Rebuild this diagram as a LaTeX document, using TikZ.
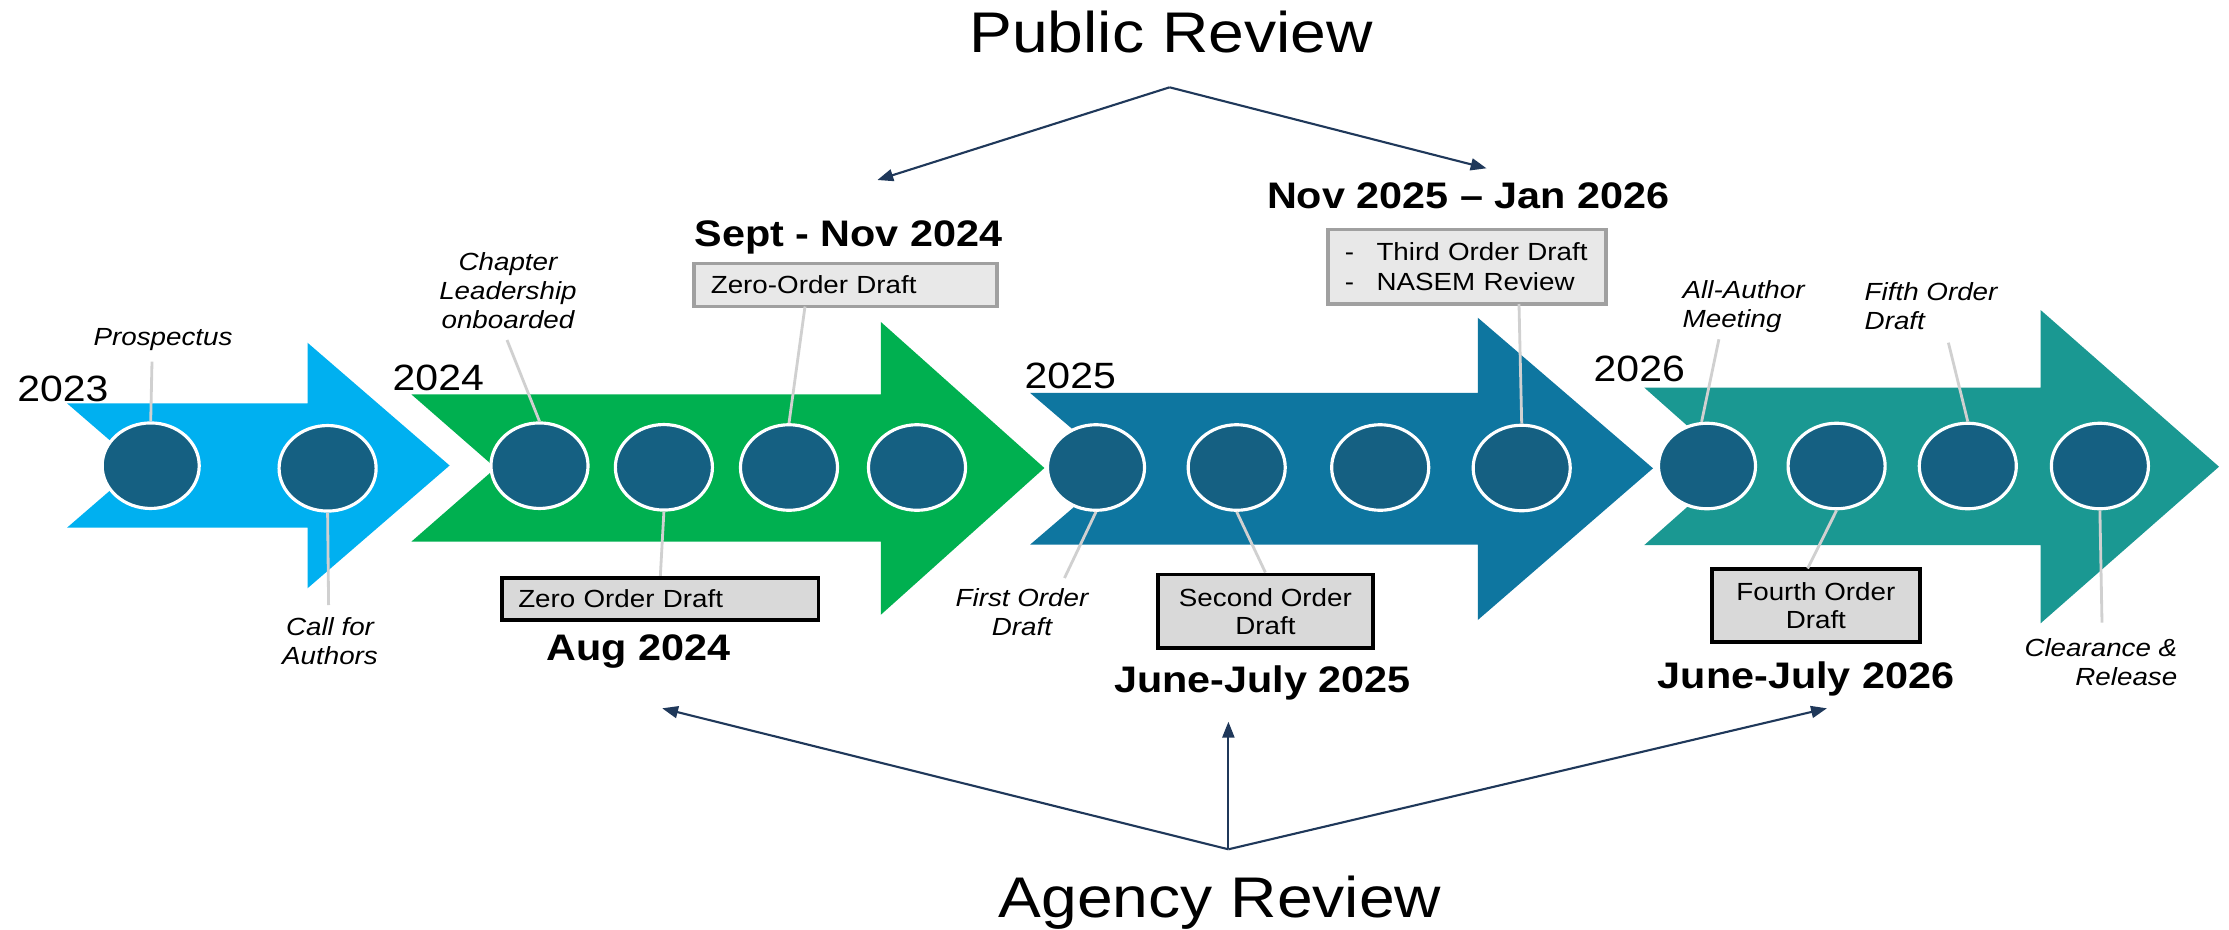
\documentclass[tikz,border=0pt]{standalone}
\usepackage{fontspec}
\setmainfont{Liberation Sans}[FakeStretch=1.12]
\usetikzlibrary{shapes.geometric,arrows.meta}

\definecolor{skyarrow}{RGB}{0,176,240}
\definecolor{greenarrow}{RGB}{0,176,80}
\definecolor{bluearrow}{RGB}{14,118,160}
\definecolor{tealarrow}{RGB}{26,152,146}
\definecolor{dotblue}{RGB}{21,96,130}
\definecolor{navy}{RGB}{31,56,90}
\definecolor{leadgray}{RGB}{208,208,208}
\definecolor{boxfill}{RGB}{217,217,217}
\definecolor{palefill}{RGB}{232,232,232}
\definecolor{paleedge}{RGB}{160,160,160}

\tikzset{
	milestone/.style={ellipse, draw=white, line width=0.9pt, fill=dotblue, minimum width=0.97cm, minimum height=0.855cm, inner sep=0pt},
	leader/.style={draw=leadgray, line width=0.8pt},
	review/.style={draw=navy, line width=0.6pt, -{Triangle[length=4.5pt,width=3.4pt]}},
	note/.style={font=\itshape\fontsize{7.05}{8.35}\selectfont, align=center, inner sep=0pt},
	year/.style={font=\fontsize{10.4}{12}\selectfont, inner sep=0pt, anchor=base west},
	when/.style={font=\bfseries\fontsize{10.5}{12.6}\selectfont, inner sep=0pt, anchor=base},
	title/.style={font=\fontsize{16.3}{19}\selectfont, inner sep=0pt, anchor=base},
	darkbox/.style={draw=black, line width=1.1pt, fill=boxfill, font=\fontsize{7.05}{8.05}\selectfont, align=center, inner sep=0pt},
	lightbox/.style={draw=paleedge, line width=1pt, fill=palefill, font=\fontsize{7.05}{8.35}\selectfont, align=left, inner ysep=0pt, inner xsep=0.17cm}
}

\begin{document}
\begin{tikzpicture}[x=0.01cm,y=-0.01cm]
	\useasboundingbox (0,0) rectangle (2229,930);
	\fill[white] (0,0) rectangle (2229,930); %background
	\fill[skyarrow] (67,403.3)--(307.5,403.3)--(307.5,342.7)--(449.6,465.5)--(307.5,588.3)--(307.5,527.7)--(67,527.7)--(139,465.5)--cycle; %2023 arrow
	\fill[greenarrow] (411.3,394.3)--(880.8,394.3)--(880.8,321.9)--(1044.4,468)--(880.8,614.8)--(880.8,541.7)--(411.3,541.7)--(495.7,468)--cycle; %2024 arrow
	\fill[bluearrow] (1030,392.8)--(1477.8,392.8)--(1477.8,317.7)--(1653,468.3)--(1477.8,620)--(1477.8,544.7)--(1030,544.7)--(1118.7,468.7)--cycle; %2025 arrow
	\fill[tealarrow] (1644.4,387.7)--(2040.6,387.7)--(2040.6,310)--(2219,466.7)--(2040.6,623.3)--(2040.6,545)--(1644.4,545)--(1733,466.3)--cycle; %2026 arrow

	\node[milestone] (c1) at (150.7,465.7) {}; %prospectus
	\node[milestone] (c2) at (327.6,468.3) {}; %call for authors
	\node[milestone] (c3) at (539.5,465.7) {}; %chapter leadership
	\node[milestone] (c4) at (663.9,467.3) {}; %zero order draft
	\node[milestone] (c5) at (789,467.5) {}; %zero-order draft review
	\node[milestone] (c6) at (917,467.5) {};
	\node[milestone] (c7) at (1096,467.5) {}; %first order draft
	\node[milestone] (c8) at (1236.7,467.5) {}; %second order draft
	\node[milestone] (c9) at (1380.2,467.5) {};
	\node[milestone] (c10) at (1521.7,468) {}; %third order draft
	\node[milestone] (c11) at (1707,466) {}; %all-author meeting
	\node[milestone] (c12) at (1836.6,466) {}; %fourth order draft
	\node[milestone] (c13) at (1967.8,466) {}; %fifth order draft
	\node[milestone] (c14) at (2099.9,466) {}; %clearance

	\node[darkbox, align=left, text width=2.84cm, inner xsep=0.16cm, minimum height=0.42cm] (zob) at (660.35,598.85) {Zero Order Draft}; %agency box 2024
	\node[lightbox, text width=2.69cm, minimum height=0.433cm] (zog) at (845.4,285) {Zero-Order Draft}; %public box 2024
	\node[lightbox, text width=2.44cm, minimum height=0.745cm] (tob) at (1466.85,266.7) {-\hspace{0.225cm}Third Order Draft\\-\hspace{0.225cm}NASEM Review}; %public box 2025
	\node[darkbox, minimum width=2.147cm, minimum height=0.738cm] (sob) at (1265.4,611.35) {Second Order\\Draft}; %agency box 2025
	\node[darkbox, minimum width=2.078cm, minimum height=0.725cm] (fob) at (1815.85,605.3) {Fourth Order\\Draft}; %agency box 2026

	\coordinate (p1) at (152,361.7);
	\coordinate (p2) at (328.6,605);
	\coordinate (p3) at (507,340);
	\coordinate (p5) at (805,306.5);
	\coordinate (p7) at (1064.5,578);
	\coordinate (p10) at (1519,304);
	\coordinate (p11) at (1718.9,339.3);
	\coordinate (p12) at (1807.6,568.5);
	\coordinate (p13) at (1948.4,342.7);
	\coordinate (p14) at (2102,622.7);
	\draw[leader] (c1.north) -- (p1); %prospectus leader
	\draw[leader] (c2.south) -- (p2); %call leader
	\draw[leader] (c3.north) -- (p3); %chapter leader
	\draw[leader] (c4.south) -- (zob.north); %zero order leader
	\draw[leader] (c5.north) -- (p5); %zero-order leader
	\draw[leader] (c7.south) -- (p7); %first order leader
	\draw[leader] (c8.south) -- (sob.north); %second order leader
	\draw[leader] (c10.north) -- (p10); %third order leader
	\draw[leader] (c11.97) -- (p11); %all-author leader
	\draw[leader] (c12.south) -- (p12); %fourth order leader
	\draw[leader] (c13.north) -- (p13); %fifth order leader
	\draw[leader] (c14.south) -- (p14); %clearance leader

	\node[note, anchor=base] (prosp) at (163,345) {Prospectus};
	\node[note, anchor=north] (chap) at (508,251.4) {Chapter\\Leadership\\onboarded};
	\node[note, anchor=north] (callauth) at (330,616.4) {Call for\\Authors};
	\node[note, anchor=north] (first) at (1022,587.7) {First Order\\Draft};
	\node[note, anchor=north west, align=left] (allauth) at (1682,279.7) {All-Author\\Meeting};
	\node[note, anchor=north west, align=left] (fifth) at (1864,281.4) {Fifth Order\\Draft};
	\node[note, anchor=north east, align=right] (clear) at (2178,637.7) {Clearance \&\\Release};

	\node[year] (y23) at (16.7,401.7) {2023};
	\node[year] (y24) at (392,390.7) {2024};
	\node[year] (y25) at (1024,388.5) {2025};
	\node[year] (y26) at (1593,381.7) {2026};

	\node[when] (sept) at (848.5,246.7) {Sept - Nov 2024};
	\node[when] (novjan) at (1468.3,208.3) {Nov 2025 – Jan 2026};
	\node[when] (aug) at (638.3,660) {Aug 2024};
	\node[when] (jun25) at (1262.5,692) {June-July 2025};
	\node[when] (jun26) at (1806,688) {June-July 2026};

	\node[title] (pub) at (1171,52.7) {Public Review}; %top title
	\node[title] (agency) at (1220,917) {Agency Review}; %bottom title
	\coordinate (pubtop) at (1169.6,87.3);
	\coordinate (pubL) at (877.4,180);
	\coordinate (pubR) at (1486.5,168.3);
	\coordinate (agtop) at (1228.4,849.3);
	\coordinate (agL) at (662.2,708.3);
	\coordinate (agM) at (1228.4,721.7);
	\coordinate (agR) at (1826.9,708.3);
	\draw[review] (pubtop) -- (pubL); %public review to 2024
	\draw[review] (pubtop) -- (pubR); %public review to 2025
	\draw[review] (agtop) -- (agL); %agency review to 2024
	\draw[review] (agtop) -- (agM); %agency review to 2025
	\draw[review] (agtop) -- (agR); %agency review to 2026
\end{tikzpicture}
\end{document}
